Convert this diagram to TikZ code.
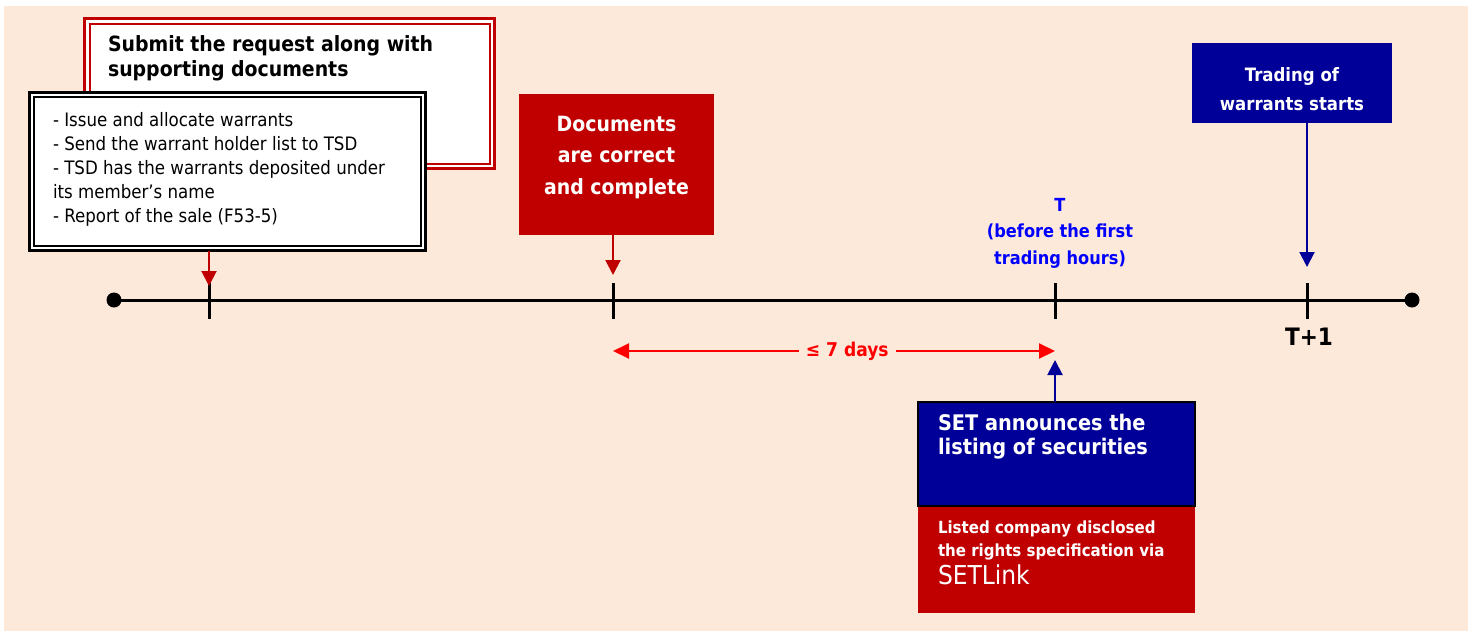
\documentclass[tikz,border=0pt]{standalone}
\usepackage{fontspec}
\setmainfont{DejaVu Sans Condensed}
\usetikzlibrary{arrows.meta}
\definecolor{bg}{RGB}{253,233,218}
\definecolor{boxred}{RGB}{192,0,0}
\definecolor{boxblue}{RGB}{0,0,153}
\definecolor{lblue}{RGB}{0,0,255}
\definecolor{arrred}{RGB}{255,0,0}
\newcommand{\fs}[2]{\fontsize{#1}{#2}\selectfont}
\tikzset{
  plainbox/.style={rectangle, inner sep=0pt, outer sep=0pt, anchor=north west},
  txt/.style={inner sep=0pt, outer sep=0pt},
  tickline/.style={line width=3pt},
  redarrow/.style={draw=boxred, line width=2pt, -{Triangle[width=15pt,length=15pt]}},
  bluearrow/.style={draw=boxblue, line width=2pt, -{Triangle[width=15pt,length=15pt]}},
  spanarrow/.style={draw=arrred, line width=2pt, {Triangle[width=15pt,length=16pt]}-{Triangle[width=15pt,length=16pt]}},
}
\begin{document}
\begin{tikzpicture}[x=1pt,y=-1pt]
\useasboundingbox (0,0) rectangle (1474,632);
\fill[bg] (4,6) rectangle (1468,631);

% timeline
\coordinate (start) at (114,300);
\coordinate (end) at (1412,300);
\coordinate (t1) at (209,300);
\coordinate (t2) at (613,300);
\coordinate (t3) at (1055,300);
\coordinate (t4) at (1307,300);
\coordinate (t1top) at (209,286);
\coordinate (t2top) at (613,275);
\coordinate (t4top) at (1307,267);
\coordinate (t3bot) at (1055,360);
\coordinate (span2) at (613,351);
\coordinate (span3) at (1055,351);
\draw[line width=3pt] (start) -- (end);
\fill (start) circle (7.5pt);
\fill (end) circle (7.5pt);
\foreach \t in {t1,t2,t3,t4}{
  \draw[tickline] ([yshift=17pt]\t) -- ([yshift=-19pt]\t);
}

% red double box
\node[plainbox, draw=boxred, fill=white, line width=3pt, minimum width=410pt, minimum height=150pt] (redbox) at (84.5,18.5) {};
\draw[boxred, line width=2pt] ([xshift=5pt,yshift=-5pt]redbox.north west) rectangle ([xshift=-5pt,yshift=5pt]redbox.south east);
\node[txt, anchor=north west, align=left, font=\fs{21}{25}\bfseries] (submit) at (108,36) {Submit the request along with\\supporting documents};

% black double box
\node[plainbox, draw=black, fill=white, line width=3pt, minimum width=396pt, minimum height=158pt] (blackbox) at (29.5,92.5) {};
\draw[black, line width=1.5pt] ([xshift=4.5pt,yshift=-4.5pt]blackbox.north west) rectangle ([xshift=-4.5pt,yshift=4.5pt]blackbox.south east);
\node[txt, anchor=north west, align=left, font=\fs{18.5}{24}] (steps) at (53,112) {- Issue and allocate warrants\\- Send the warrant holder list to TSD\\- TSD has the warrants deposited under\\its member’s name\\- Report of the sale (F53-5)};

% documents box
\node[plainbox, fill=boxred, minimum width=195pt, minimum height=141pt] (docs) at (519,94) {};
\node[txt, anchor=north, align=center, text=white, font=\fs{21}{31.5}\bfseries] (docstxt) at (616.5,116) {Documents\\are correct\\and complete};

% T label
\node[txt, anchor=north, align=center, text=lblue, font=\fs{18}{26.5}\bfseries] (tlabel) at (1060,198) {T\\(before the first\\trading hours)};

% T+1 label
\node[txt, font=\fs{24}{28}\bfseries] (tplus) at (1309,337) {T+1};

% SET box
\node[plainbox, fill=boxblue, draw=black, line width=1.5pt, minimum width=277pt, minimum height=104pt] (setbox) at (918,402) {};
\node[txt, anchor=north west, align=left, text=white, font=\fs{21.5}{24}\bfseries] (settxt) at (938,414) {SET announces the\\listing of securities};

% listed box
\node[plainbox, fill=boxred, minimum width=277pt, minimum height=106pt] (listbox) at (918,507) {};
\node[txt, anchor=north west, align=left, text=white, font=\fs{16.7}{23}\bfseries] (listtxt) at (938,521) {Listed company disclosed\\the rights specification via};
\node[txt, anchor=north west, text=white, font=\fs{26}{28}] (setlink) at (938,565) {SETLink};

% trading box
\node[plainbox, fill=boxblue, minimum width=200pt, minimum height=80pt] (tradebox) at (1192,43) {};
\node[txt, anchor=north, align=center, text=white, font=\fs{18.4}{29}\bfseries] (tradetxt) at (1292,68) {Trading of\\warrants starts};

% connectors
\draw[redarrow] (blackbox.south -| t1top) -- (t1top);
\draw[redarrow] (docs.south -| t2top) -- (t2top);
\draw[bluearrow] (tradebox.south -| t4top) -- (t4top);
\draw[bluearrow] (setbox.north -| t3bot) -- (t3bot);
\draw[spanarrow] (span2) -- node[pos=0.53, fill=bg, inner sep=7pt, text=arrred, font=\fs{19}{22}\bfseries] (spanlbl) {≤ 7 days} (span3);
\end{tikzpicture}
\end{document}
